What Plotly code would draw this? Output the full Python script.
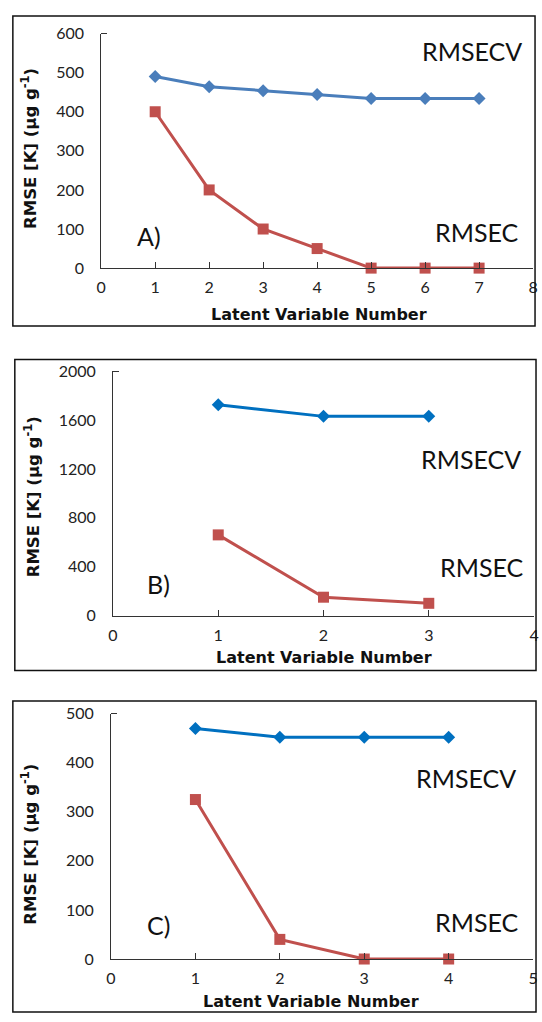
import plotly.graph_objects as go

W, H = 542, 1022

# ---- data ----
lv_a = [1, 2, 3, 4, 5, 6, 7]
rmsecv_a = [490, 464, 454, 444, 434, 434, 434]
rmsec_a = [400, 200, 100, 50, 0, 0, 0]

lv_b = [1, 2, 3]
rmsecv_b = [1725, 1630, 1630]
rmsec_b = [660, 150, 100]

lv_c = [1, 2, 3, 4]
rmsecv_c = [470, 452, 452, 452]
rmsec_c = [325, 40, 0, 0]

panel_labels = ["A)", "B)", "C)"]
x_title = "Latent Variable Number"
y_title = "RMSE [K] (µg g<sup>-1</sup>)"

RED = "#C0504D"
BLUE_A = "#4A7EBB"
BLUE_BC = "#0070C0"


def px(x):
    return x / W


def py(y):
    return 1 - y / H


fig = go.Figure()

panels = [
    dict(lv=lv_a, cv=rmsecv_a, c=rmsec_a, blue=BLUE_A, xr=[0, 8], yr=[0, 600], dy=100,
         xd=[98, 538], yd=[24, 263], ax="", border=[8, 6, 540, 322],
         cvlab=(423, 42), clab=(436, 226), plab=(132, 230), ytit=(25, 141), xtit=(320, 310)),
    dict(lv=lv_b, cv=rmsecv_b, c=rmsec_b, blue=BLUE_BC, xr=[0, 4], yr=[0, 2000], dy=400,
         xd=[110, 539], yd=[368, 617], ax="2", border=[10, 356, 541, 673],
         cvlab=(422, 458), clab=(441, 568), plab=(143, 585), ytit=(27, 496), xtit=(325, 660)),
    dict(lv=lv_c, cv=rmsecv_c, c=rmsec_c, blue=BLUE_BC, xr=[0, 5], yr=[0, 500], dy=100,
         xd=[108, 538], yd=[717, 967], ax="3", border=[8, 704, 541, 1021],
         cvlab=(417, 783), clab=(436, 929), plab=(143, 932), ytit=(25, 850), xtit=(312, 1010)),
]

annotations = []
shapes = []
for i, p in enumerate(panels):
    xa = "x" + p["ax"]
    ya = "y" + p["ax"]
    fig.add_trace(go.Scatter(x=p["lv"], y=p["cv"], mode="lines+markers", xaxis=xa, yaxis=ya,
                             line=dict(color=p["blue"], width=3),
                             marker=dict(symbol="diamond", size=10, color=p["blue"]),
                             cliponaxis=False, showlegend=False))
    fig.add_trace(go.Scatter(x=p["lv"], y=p["c"], mode="lines+markers", xaxis=xa, yaxis=ya,
                             line=dict(color=RED, width=3),
                             marker=dict(symbol="square", size=11, color=RED),
                             cliponaxis=False, showlegend=False))
    xkey = "xaxis" + p["ax"]
    ykey = "yaxis" + p["ax"]
    fig.update_layout({
        xkey: dict(domain=[px(p["xd"][0]), px(p["xd"][1])], range=p["xr"], anchor=ya,
                   dtick=1, tick0=0, showgrid=False, zeroline=False, showline=True,
                   linecolor="#333333", linewidth=1, ticks="inside", ticklen=6,
                   tickcolor="#333333", tickfont=dict(family="Lato", size=16, color="#222"),
                   ticklabelstandoff=5, ticklabeloverflow="allow", fixedrange=True),
        ykey: dict(domain=[py(p["yd"][1]), py(p["yd"][0])], range=p["yr"], anchor=xa,
                   dtick=p["dy"], tick0=0, showgrid=False, zeroline=False, showline=True,
                   linecolor="#333333", linewidth=1, ticks="",
                   minor=dict(tickmode="array", tickvals=[p["yr"][1]], ticks="inside",
                              ticklen=6, tickcolor="#333333"),
                   tickfont=dict(family="Lato", size=16, color="#222"),
                   ticklabelstandoff=13, ticklabeloverflow="allow", fixedrange=True),
    })
    big = dict(family="Lato", size=25, color="#111")
    annotations += [
        dict(text="RMSECV", x=px(p["cvlab"][0]), y=py(p["cvlab"][1]), xref="paper", yref="paper",
             xanchor="left", yanchor="middle", showarrow=False, font=big),
        dict(text="RMSEC", x=px(p["clab"][0]), y=py(p["clab"][1]), xref="paper", yref="paper",
             xanchor="left", yanchor="middle", showarrow=False, font=big),
        dict(text=panel_labels[i], x=px(p["plab"][0]), y=py(p["plab"][1]), xref="paper", yref="paper",
             xanchor="left", yanchor="middle", showarrow=False, font=big),
        dict(text="<b>" + y_title + "</b>", x=px(p["ytit"][0]), y=py(p["ytit"][1]), xref="paper",
             yref="paper", xanchor="center", yanchor="middle", textangle=-90, showarrow=False,
             font=dict(family="DejaVu Sans", size=16.5, color="#111")),
        dict(text="<b>" + x_title + "</b>", x=px(p["xtit"][0]), y=py(p["xtit"][1]), xref="paper",
             yref="paper", xanchor="center", yanchor="middle", showarrow=False,
             font=dict(family="DejaVu Sans", size=16, color="#111")),
    ]
    b = p["border"]
    shapes.append(dict(type="rect", xref="paper", yref="paper", x0=px(b[0]), x1=px(b[2]),
                       y0=py(b[3]), y1=py(b[1]), line=dict(color="#111", width=1.5)))

fig.update_layout(width=W, height=H, margin=dict(l=0, r=0, t=0, b=0),
                  paper_bgcolor="white", plot_bgcolor="white",
                  annotations=annotations, shapes=shapes)

fig.write_html("out.html", config={"displayModeBar": False})
